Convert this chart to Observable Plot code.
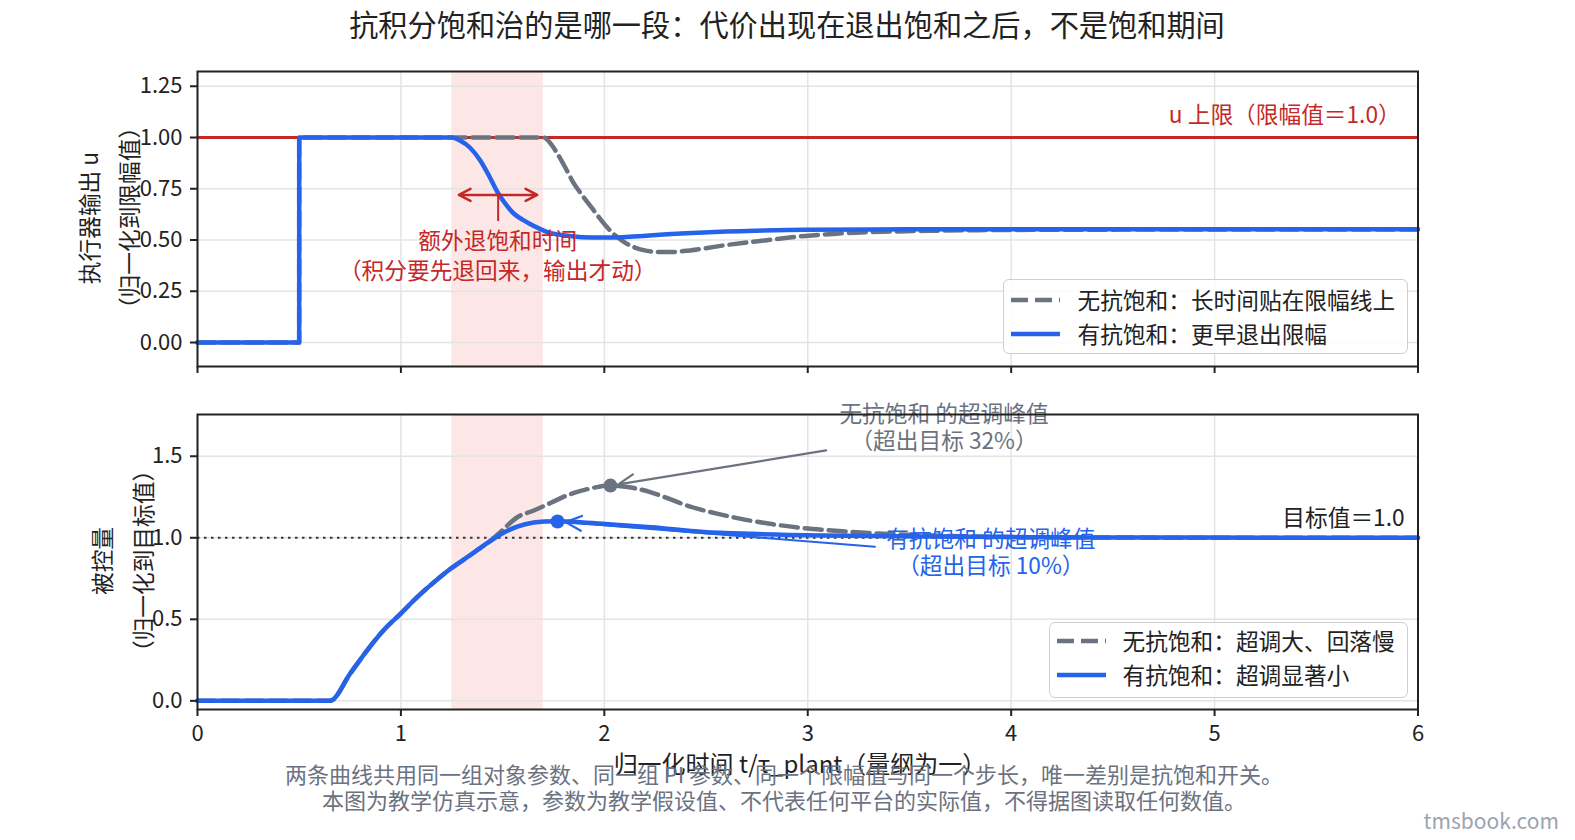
<!DOCTYPE html>
<html><head><meta charset="utf-8">
<script src="https://cdn.jsdelivr.net/npm/d3@7"></script>
<script src="https://cdn.jsdelivr.net/npm/@observablehq/plot@0.6"></script>
<style>
html,body{margin:0;padding:0;background:#fff;width:1575px;height:840px;overflow:hidden;}
#root{position:relative;width:1575px;height:840px;overflow:hidden;font-family:"Noto Sans CJK SC","Noto Sans",sans-serif;color:#222;}
.abs{position:absolute;white-space:nowrap;line-height:1;}
.ctr{transform:translate(-50%,-50%);}
.rot{transform:translate(-50%,-50%) rotate(-90deg);}
.legend{position:absolute;border:1.5px solid #cfcfcf;border-radius:6px;background:rgba(255,255,255,0.85);box-sizing:border-box;overflow:hidden;}
.row{position:absolute;left:0;right:0;height:30px;font-size:22.7px;color:#222;white-space:nowrap;}
.row svg{position:absolute;top:0;}
.row span{position:absolute;top:50%;transform:translateY(-50%);line-height:1;}
svg.plot{position:absolute;left:0;overflow:visible;}
</style></head><body><div id="root"></div>
<script>
// ---------- data ----------
const titleText = "抗积分饱和治的是哪一段：代价出现在退出饱和之后，不是饱和期间";
const xLabel = "归一化时间 t/τ_plant（量纲为一）";
const topYLabel = ["执行器输出 u", "（归一化到限幅值）"];
const botYLabel = ["被控量", "（归一化到目标值）"];
const footnotes = [
  "两条曲线共用同一组对象参数、同一组 PI 参数、同一个限幅值与同一个步长，唯一差别是抗饱和开关。",
  "本图为教学仿真示意，参数为教学假设值、不代表任何平台的实际值，不得据图读取任何数值。"
];
const watermark = "tmsbook.com";
const topLegend = ["无抗饱和：长时间贴在限幅线上", "有抗饱和：更早退出限幅"];
const botLegend = ["无抗饱和：超调大、回落慢", "有抗饱和：超调显著小"];

const xTicks = [0, 1, 2, 3, 4, 5, 6];
const uTicks = [0, 0.25, 0.5, 0.75, 1.0, 1.25];
const yTicks = [0, 0.5, 1.0, 1.5];

const uLimit = 1.0;
const target = 1.0;
const satWindow = [[1.25, 1.70]];

// top panel: actuator output u
const tU_noAW = [0, 0.4999, 0.5, 1.25, 1.70, 1.74, 1.77, 1.81, 1.85, 1.89, 1.94, 1.99, 2.04, 2.09, 2.15, 2.21, 2.27, 2.33, 2.39, 2.49, 2.59, 2.69, 2.79, 2.89, 2.99, 3.14, 3.29, 3.44, 3.61, 3.84, 4.18, 4.98, 6.00];
const u_noAW  = [0, 0, 1, 1, 1.0, 0.965, 0.92, 0.85, 0.776, 0.72, 0.655, 0.59, 0.535, 0.495, 0.463, 0.447, 0.441, 0.441, 0.446, 0.459, 0.474, 0.487, 0.498, 0.51, 0.52, 0.531, 0.538, 0.542, 0.545, 0.548, 0.55, 0.551, 0.551];
const tU_AW = [0, 0.4999, 0.5, 1.25, 1.29, 1.34, 1.39, 1.435, 1.475, 1.515, 1.556, 1.60, 1.637, 1.68, 1.72, 1.79, 1.89, 1.99, 2.09, 2.19, 2.29, 2.49, 2.74, 2.99, 3.48, 3.98, 6.00];
const u_AW  = [0, 0, 1, 1, 0.985, 0.95, 0.888, 0.81, 0.733, 0.675, 0.628, 0.598, 0.577, 0.556, 0.538, 0.524, 0.514, 0.512, 0.514, 0.52, 0.527, 0.537, 0.545, 0.55, 0.552, 0.552, 0.552];

// bottom panel: controlled variable
const tY_AW = [0, 0.651, 0.752, 0.834, 0.916, 0.998, 1.08, 1.163, 1.244, 1.326, 1.408, 1.489, 1.572, 1.653, 1.71, 1.77, 1.84, 1.99, 2.23, 2.49, 2.73, 3.08, 3.58, 4.18, 4.97, 6.00];
const y_AW  = [0, 0, 0.17, 0.31, 0.435, 0.534, 0.636, 0.728, 0.81, 0.881, 0.953, 1.02, 1.069, 1.094, 1.10, 1.102, 1.099, 1.086, 1.065, 1.036, 1.024, 1.014, 1.008, 1.003, 1.001, 1.0];
const tY_noAW = [0, 0.651, 0.752, 0.834, 0.916, 0.998, 1.08, 1.163, 1.244, 1.326, 1.408, 1.449, 1.489, 1.572, 1.653, 1.738, 1.817, 1.907, 2.03, 2.146, 2.226, 2.31, 2.385, 2.474, 2.564, 2.683, 2.823, 2.952, 3.091, 3.22, 3.35, 3.53, 3.78, 4.08, 4.47, 4.97, 6.00];
const y_noAW  = [0, 0, 0.17, 0.31, 0.435, 0.534, 0.636, 0.728, 0.81, 0.881, 0.953, 0.99, 1.035, 1.126, 1.167, 1.215, 1.26, 1.295, 1.32, 1.305, 1.28, 1.243, 1.207, 1.173, 1.145, 1.113, 1.084, 1.063, 1.047, 1.035, 1.026, 1.017, 1.009, 1.004, 1.002, 1.0, 1.0];

const peakT = [2.03, 1.77];
const peakV = [1.32, 1.10];

// annotation texts
const uLimitLabel = "u 上限（限幅值＝1.0）";
const extraLabel = ["额外退饱和时间", "（积分要先退回来，输出才动）"];
const grayPeakLabel = ["无抗饱和 的超调峰值", "（超出目标 32%）"];
const bluePeakLabel = ["有抗饱和 的超调峰值", "（超出目标 10%）"];
const targetLabel = "目标值＝1.0";

// ---------- styles ----------
const FONT = '"Noto Sans CJK SC","Noto Sans",sans-serif';
const BLUE = "#2563eb", GRAY = "#6b7280", RED = "#c62828", INK = "#222";
const GRID = {stroke: "#e4e4e4", strokeOpacity: 1, strokeWidth: 1.5};
const zip = (ts, vs) => ts.map((t, i) => ({t, v: vs[i]}));
const ML = 197, MR = 157.5;

const root = document.getElementById("root");
function addDiv(cls, text, x, y, css) {
  const d = document.createElement("div");
  d.className = "abs " + cls;
  d.textContent = text;
  d.style.left = x + "px"; d.style.top = y + "px";
  Object.assign(d.style, css || {});
  root.appendChild(d);
  return d;
}

// ---------- top plot ----------
const uDom = [-0.117, 1.322];
const topPlot = Plot.plot({
  width: 1575, height: 380,
  marginLeft: ML, marginRight: MR, marginTop: 71, marginBottom: 14,
  style: {fontFamily: FONT, background: "transparent", overflow: "visible"},
  x: {domain: [0, 6]},
  y: {domain: uDom},
  marks: [
    Plot.rect(satWindow, {x1: d => d[0], x2: d => d[1], y1: uDom[0], y2: uDom[1], fill: "#e53935", fillOpacity: 0.12}),
    Plot.gridX(xTicks, GRID),
    Plot.gridY(uTicks, GRID),
    Plot.ruleY([uLimit], {stroke: RED, strokeWidth: 3}),
    Plot.line(zip(tU_noAW, u_noAW), {x: "t", y: "v", curve: "monotone-x", stroke: GRAY, strokeWidth: 4.5, strokeDasharray: "17,7"}),
    Plot.line(zip(tU_AW, u_AW), {x: "t", y: "v", curve: "monotone-x", stroke: BLUE, strokeWidth: 4.5}),
    Plot.text([uLimitLabel], {x: 5.915, y: 1.107, text: d => d, textAnchor: "end", fill: RED, fontSize: 22.7}),
    Plot.arrow([[1.285], [1.67]], {x1: 1.478, y1: 0.72, x2: d => d[0], y2: 0.72, stroke: RED, strokeWidth: 2.5, headLength: 12, headAngle: 55}),
    Plot.ruleX([1.478], {y1: 0.59, y2: 0.72, stroke: RED, strokeWidth: 2}),
    Plot.text(extraLabel, {x: 1.476, y: (d, i) => [0.493, 0.346][i], text: d => d, fill: RED, fontSize: 22.7}),
    Plot.frame({stroke: INK, strokeWidth: 2}),
    Plot.axisY(uTicks, {tickFormat: d3.format(".2f"), fontSize: 22, tickSize: 7, tickPadding: 8, strokeWidth: 2, stroke: INK, fill: INK, label: null}),
    Plot.axisX(xTicks, {tickFormat: () => "", tickSize: 7, strokeWidth: 2, stroke: INK, label: null})
  ]
});
topPlot.classList.add("plot");
topPlot.style.top = "0px";
root.appendChild(topPlot);

// ---------- bottom plot ----------
const yDom = [-0.053, 1.756];
const botPlot = Plot.plot({
  width: 1575, height: 460,
  marginLeft: ML, marginRight: MR, marginTop: 34, marginBottom: 131,
  style: {fontFamily: FONT, background: "transparent", overflow: "visible"},
  x: {domain: [0, 6]},
  y: {domain: yDom},
  marks: [
    Plot.rect(satWindow, {x1: d => d[0], x2: d => d[1], y1: yDom[0], y2: yDom[1], fill: "#e53935", fillOpacity: 0.12}),
    Plot.gridX(xTicks, GRID),
    Plot.gridY(yTicks, GRID),
    Plot.ruleY([target], {stroke: "#333", strokeWidth: 2, strokeDasharray: "2.5,4.5"}),
    Plot.line(zip(tY_noAW, y_noAW), {x: "t", y: "v", curve: "monotone-x", stroke: GRAY, strokeWidth: 4.5, strokeDasharray: "17,7"}),
    Plot.line(zip(tY_AW, y_AW), {x: "t", y: "v", curve: "monotone-x", stroke: BLUE, strokeWidth: 4.5}),
    Plot.arrow([0], {x1: 3.09, y1: 1.536, x2: peakT[0], y2: peakV[0], insetEnd: 8, stroke: GRAY, strokeWidth: 2.2, headLength: 12, headAngle: 50}),
    Plot.arrow([1], {x1: 3.33, y1: 0.945, x2: peakT[1], y2: peakV[1], insetEnd: 8, stroke: BLUE, strokeWidth: 2.2, headLength: 12, headAngle: 50}),
    Plot.dot(peakT.map((t, i) => ({t, v: peakV[i], c: i})), {x: "t", y: "v", r: 7, fill: d => d.c === 0 ? GRAY : BLUE, stroke: "none"}),
    Plot.text(grayPeakLabel, {x: 3.67, y: (d, i) => [1.756, 1.588][i], text: d => d, fill: GRAY, fontSize: 22.7}),
    Plot.text(bluePeakLabel, {x: 3.90, y: (d, i) => [0.989, 0.824][i], text: d => d, fill: BLUE, fontSize: 22.7}),
    Plot.text([targetLabel], {x: 5.934, y: 1.117, text: d => d, textAnchor: "end", fill: INK, fontSize: 22.7}),
    Plot.frame({stroke: INK, strokeWidth: 2}),
    Plot.axisY(yTicks, {tickFormat: d3.format(".1f"), fontSize: 22, tickSize: 7, tickPadding: 8, strokeWidth: 2, stroke: INK, fill: INK, label: null}),
    Plot.axisX(xTicks, {tickFormat: d3.format("d"), fontSize: 22, tickSize: 7, tickPadding: 9, strokeWidth: 2, stroke: INK, fill: INK, label: null})
  ]
});
botPlot.classList.add("plot");
botPlot.style.top = "380px";
root.appendChild(botPlot);

// ---------- text around ----------
addDiv("ctr", titleText, 787, 24, {fontSize: "29.2px", color: INK});
addDiv("rot", topYLabel[0], 88.5, 218, {fontSize: "22.7px"});
addDiv("rot", topYLabel[1], 128.5, 218, {fontSize: "22.7px"});
addDiv("rot", botYLabel[0], 101.5, 561, {fontSize: "22.7px"});
addDiv("rot", botYLabel[1], 142.5, 561, {fontSize: "22.7px"});
addDiv("ctr", xLabel, 800, 763, {fontSize: "24px", color: INK});
addDiv("ctr", footnotes[0], 784, 773, {fontSize: "22px", color: GRAY});
addDiv("ctr", footnotes[1], 784, 798.5, {fontSize: "22px", color: GRAY});
const wm = addDiv("", watermark, 0, 820, {fontSize: "21px", color: "#9ca3af"});
wm.style.left = ""; wm.style.right = "16px"; wm.style.transform = "translateY(-50%)";

// ---------- legends ----------
function legend(labels, left, top, width, height, textLeft, rowTops) {
  const box = document.createElement("div");
  box.className = "legend";
  Object.assign(box.style, {left: left + "px", top: top + "px", width: width + "px", height: height + "px"});
  labels.forEach((lab, i) => {
    const row = document.createElement("div");
    row.className = "row";
    row.style.top = rowTops[i] + "px";
    const dash = i === 0 ? 'stroke-dasharray="17,7"' : "";
    const col = i === 0 ? GRAY : BLUE;
    row.innerHTML = `<svg width="60" height="30" style="left:7px"><line x1="0" y1="15" x2="49" y2="15" stroke="${col}" stroke-width="4.5" ${dash}/></svg><span style="left:${textLeft}px">${lab}</span>`;
    box.appendChild(row);
  });
  root.appendChild(box);
}
legend(topLegend, 1002.5, 279, 405, 75, 74, [4.5, 38.5]);
legend(botLegend, 1048.5, 621.5, 359, 76, 73, [3.5, 37.5]);
</script></body></html>
